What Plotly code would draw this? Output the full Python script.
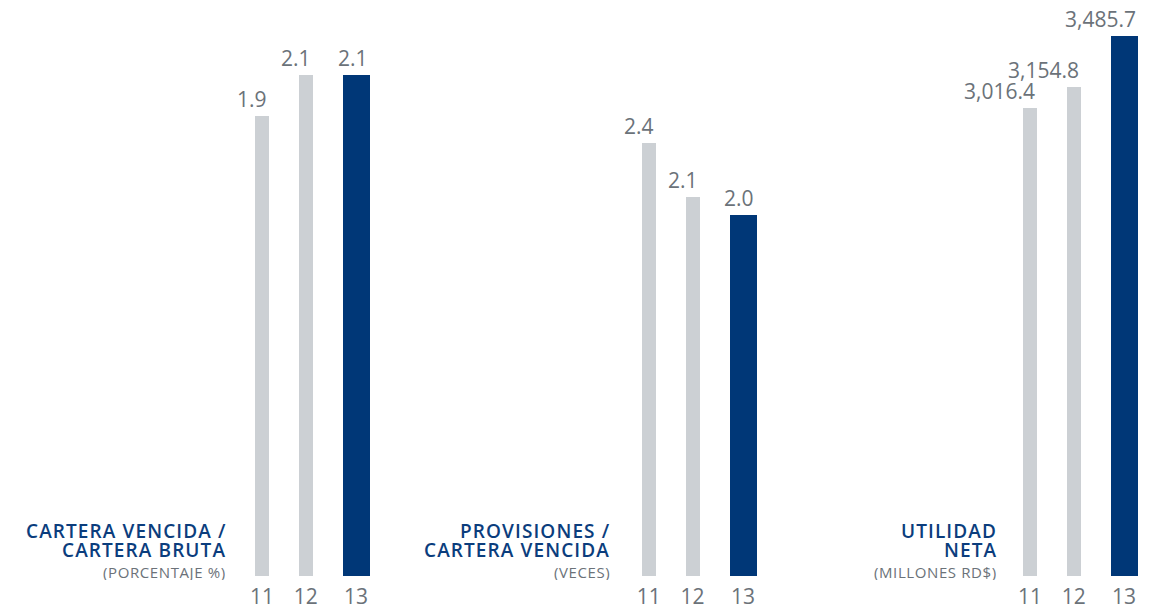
import plotly.graph_objects as go

# ---- data ----
years = ["11", "12", "13"]
cartera_vencida = [1.93, 2.1, 2.1]
provisiones = [2.4, 2.1, 2.0]
utilidad_neta = [3016.4, 3154.8, 3485.7]

titles = [
    ["CARTERA VENCIDA /", "CARTERA BRUTA", "(PORCENTAJE %)"],
    ["PROVISIONES /", "CARTERA VENCIDA", "(VECES)"],
    ["UTILIDAD", "NETA", "(MILLONES RD$)"],
]
label_formats = ["{:.1f}", "{:.1f}", "{:,.1f}"]

# ---- style / layout ----
W, H = 1166, 609
GRAY = "#ccd0d4"
BLUE = "#003777"
TITLE_BLUE = "#0b3d7d"
TEXT_GRAY = "#6b7279"
FONT = "Open Sans"

UNIT = 43.8            # px per category step
BASE_PX = 576          # baseline pixel (from top)
first_centers = [262, 648.8, 1030]      # px center of first bar in each panel
px_per_unit = [501 / 2.1, 180.5, 0.155]  # vertical scale of each panel
title_right = [227, 611, 998]

GW, BW = 14, 27        # bar widths px
R0, R1 = -0.6, 2.8     # x range in category units

series = [cartera_vencida, provisiones, utilidad_neta]

fig = go.Figure()
y_dom0 = (H - BASE_PX) / H

for i, vals in enumerate(series):
    xa = "x" if i == 0 else f"x{i+1}"
    ya = "y" if i == 0 else f"y{i+1}"
    n = len(vals)
    widths = [GW / UNIT] * (n - 1) + [BW / UNIT]
    offset = -(GW / 2) / UNIT
    colors = [GRAY] * (n - 1) + [BLUE]
    xs = list(range(n))
    fig.add_trace(go.Bar(
        x=xs, y=vals, width=widths, offset=offset,
        marker=dict(color=colors, line=dict(width=0)),
        xaxis=xa, yaxis=ya, hoverinfo="skip", showlegend=False,
    ))
    c0 = first_centers[i]
    d0 = (c0 + R0 * UNIT) / W
    d1 = (c0 + R1 * UNIT) / W
    centers = [x + offset + w / 2 for x, w in zip(xs, widths)]
    axkey = "xaxis" if i == 0 else f"xaxis{i+1}"
    aykey = "yaxis" if i == 0 else f"yaxis{i+1}"
    fig.update_layout({
        axkey: dict(domain=[d0, d1], range=[R0, R1], anchor=ya,
                    tickvals=centers, ticktext=years, showgrid=False,
                    zeroline=False, showline=False, ticks="",
                    ticklabelstandoff=6,
                    tickfont=dict(family=FONT, size=21, color=TEXT_GRAY),
                    fixedrange=True),
        aykey: dict(domain=[y_dom0, 1], range=[0, BASE_PX / px_per_unit[i]],
                    anchor=xa, visible=False, fixedrange=True),
    })
    # value labels, right-aligned to bar right edge
    for x, w, v in zip(xs, widths, vals):
        fig.add_annotation(
            x=x + offset + w, y=v, xref=xa, yref=ya,
            text=label_formats[i].format(v), showarrow=False,
            xanchor="right", yanchor="bottom", yshift=1,
            font=dict(family=FONT, size=21, color=TEXT_GRAY),
        )
    # titles
    t = titles[i]
    xr = title_right[i] / W
    for j, (txt, ypx, size, col, ls, wt, bh) in enumerate([
        (t[0], 530, 19, TITLE_BLUE, 1.1, 600, 19),
        (t[1], 549.5, 19, TITLE_BLUE, 1.1, 600, 19),
        (t[2], 571.5, 15, TEXT_GRAY, 0.6, 400, 17),
    ]):
        fig.add_annotation(
            x=xr, y=1 - ypx / H, xref="paper", yref="paper",
            text=f'<span style="letter-spacing:{ls}px">{txt}</span>',
            showarrow=False, xanchor="right", yanchor="middle",
            height=bh, borderpad=0,
            font=dict(family=FONT, size=size, color=col, weight=wt),
        )

fig.update_layout(
    width=W, height=H, margin=dict(l=0, r=0, t=0, b=0),
    paper_bgcolor="white", plot_bgcolor="white",
    bargap=0,
)
fig.write_html(
    "out.html", config={"displayModeBar": False},
    post_script="document.body.style.margin='0';document.body.style.overflow='hidden';",
)
